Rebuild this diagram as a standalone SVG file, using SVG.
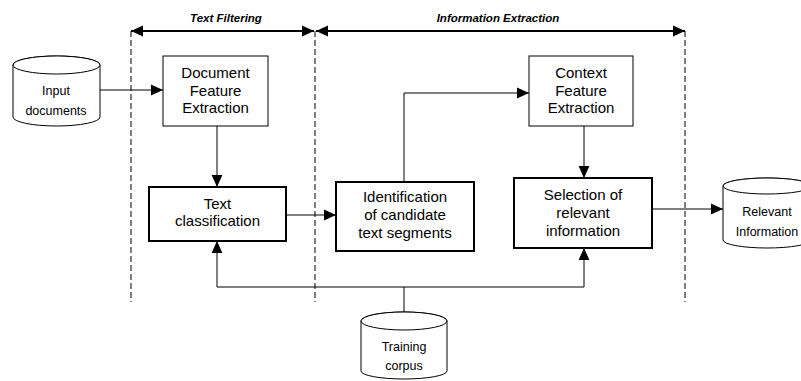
<svg xmlns="http://www.w3.org/2000/svg" width="801" height="381" viewBox="0 0 801 381">
<style>
  text { font-family: "Liberation Sans", Arial, sans-serif; fill: #000; text-anchor: middle; }
  .box { font-size: 15px; }
  .db { font-size: 12.5px; }
  .hdr { font-size: 11.5px; font-style: italic; font-weight: bold; }
  .thin { fill: #fff; stroke: #000; stroke-width: 1; }
  .thick { fill: #fff; stroke: #000; stroke-width: 2; }
  .cyl { fill: #fff; stroke: #000; stroke-width: 1; }
  .conn { fill: none; stroke: #000; stroke-width: 1; }
  .span { fill: none; stroke: #000; stroke-width: 2; }
  .dash { fill: none; stroke: #000; stroke-width: 1; stroke-dasharray: 6 3; }
</style>
<defs>
  <marker id="arr" markerUnits="userSpaceOnUse" markerWidth="12" markerHeight="12" viewBox="0 0 10 10" refX="10" refY="5" orient="auto">
    <path d="M0,0.5 L10,5 L0,9.5 Z" fill="#000"/>
  </marker>
  <marker id="big" markerUnits="userSpaceOnUse" markerWidth="12" markerHeight="12" viewBox="0 0 12 12" refX="12" refY="6" orient="auto-start-reverse">
    <path d="M0,0.5 L12,6 L0,11.5 Z" fill="#000"/>
  </marker>
</defs>

<g id="phases">
  <line class="dash" x1="131" y1="31" x2="131" y2="302" stroke-width="1.6"/>
  <line class="dash" x1="315" y1="31" x2="315" y2="302"/>
  <line class="dash" x1="685" y1="31" x2="685" y2="302"/>
  <line class="span" x1="131" y1="31" x2="314" y2="31" marker-start="url(#big)" marker-end="url(#big)"/>
  <line class="span" x1="316" y1="31" x2="685" y2="31" marker-start="url(#big)" marker-end="url(#big)"/>
  <text class="hdr" x="226" y="22">Text Filtering</text>
  <text class="hdr" x="498" y="22">Information Extraction</text>
</g>

<g id="connectors">
  <line class="conn" x1="100" y1="90" x2="163" y2="90" marker-end="url(#arr)"/>
  <line class="conn" x1="217" y1="126" x2="217" y2="187" marker-end="url(#arr)"/>
  <line class="conn" x1="286" y1="215" x2="336" y2="215" marker-end="url(#arr)"/>
  <polyline class="conn" points="404,182 404,93 529,93" marker-end="url(#arr)"/>
  <line class="conn" x1="584" y1="126" x2="584" y2="178" marker-end="url(#arr)"/>
  <line class="conn" x1="652" y1="209" x2="723" y2="209" marker-end="url(#arr)"/>
  <polyline class="conn" points="217,287 584,287"/>
  <line class="conn" x1="404" y1="312" x2="404" y2="287"/>
  <line class="conn" x1="217" y1="287" x2="217" y2="241" marker-end="url(#arr)"/>
  <line class="conn" x1="584" y1="287" x2="584" y2="248" marker-end="url(#arr)"/>
</g>

<g id="input-documents">
  <path class="cyl" d="M13,65 L13,117 A43.5,9 0 0 0 100,117 L100,65 A43.5,9 0 0 0 13,65 Z"/>
  <ellipse class="cyl" cx="56.5" cy="65" rx="43.5" ry="9"/>
  <text class="db" x="56" y="95">Input</text>
  <text class="db" x="56" y="115">documents</text>
</g>

<g id="document-feature-extraction">
  <rect class="thin" x="163" y="56" width="105" height="70"/>
  <text class="box" x="215.5" y="78">Document</text>
  <text class="box" x="215.5" y="96">Feature</text>
  <text class="box" x="215.5" y="113">Extraction</text>
</g>

<g id="context-feature-extraction">
  <rect class="thin" x="529" y="56" width="104" height="70"/>
  <text class="box" x="581" y="78">Context</text>
  <text class="box" x="581" y="96">Feature</text>
  <text class="box" x="581" y="113">Extraction</text>
</g>

<g id="text-classification">
  <rect class="thick" x="149" y="187" width="137" height="54"/>
  <text class="box" x="217.5" y="209">Text</text>
  <text class="box" x="217.5" y="226">classification</text>
</g>

<g id="identification">
  <rect class="thick" x="336" y="182" width="138" height="69"/>
  <text class="box" x="405" y="202">Identification</text>
  <text class="box" x="405" y="220">of candidate</text>
  <text class="box" x="405" y="238">text segments</text>
</g>

<g id="selection">
  <rect class="thick" x="514" y="178" width="138" height="70"/>
  <text class="box" x="583" y="200">Selection of</text>
  <text class="box" x="583" y="218">relevant</text>
  <text class="box" x="583" y="236">information</text>
</g>

<g id="relevant-information">
  <path class="cyl" d="M723,186 L723,240 A44,8 0 0 0 811,240 L811,186 A44,8 0 0 0 723,186 Z"/>
  <ellipse class="cyl" cx="767" cy="186" rx="44" ry="8"/>
  <text class="db" x="767" y="216">Relevant</text>
  <text class="db" x="767" y="236">Information</text>
</g>

<g id="training-corpus">
  <path class="cyl" d="M361,321 L361,371 A43,8 0 0 0 447,371 L447,321 A43,9 0 0 0 361,321 Z"/>
  <ellipse class="cyl" cx="404" cy="321" rx="43" ry="9"/>
  <text class="db" x="404" y="351">Training</text>
  <text class="db" x="404" y="370">corpus</text>
</g>
</svg>
